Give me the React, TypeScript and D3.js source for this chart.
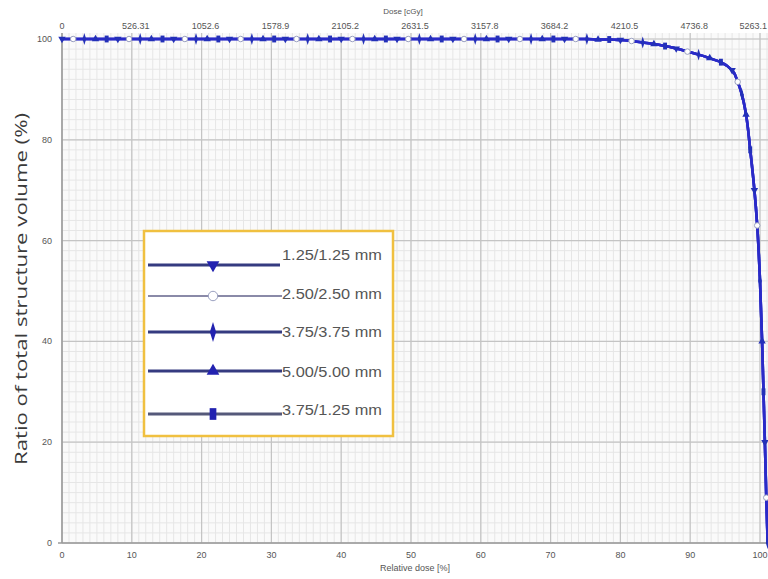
import * as d3 from "d3";

// relative dose [%] sampled along the DVH curve
const relDose = [
  0, 1.6, 3.2, 4.8, 6.4, 8, 9.6, 11.2, 12.8, 14.4, 16, 17.6, 19.2, 20.8, 22.4,
  24, 25.6, 27.2, 28.8, 30.4, 32, 33.6, 35.2, 36.8, 38.4, 40, 41.6, 43.2, 44.8,
  46.4, 48, 49.6, 51.2, 52.8, 54.4, 56, 57.6, 59.2, 60.8, 62.4, 64, 65.6, 67.2,
  68.8, 70.4, 72, 73.6, 75.2, 76.8, 78.4, 80, 81.6, 83.2, 84.8, 86.4, 88, 89.6,
  91.2, 92.8, 94.4, 96, 96.8, 97.4, 98, 98.6, 99.2, 99.6, 100, 100.3, 100.5,
  100.7, 100.9, 101.1,
];

// ratio of total structure volume [%]
const volume = [
  100, 100, 100, 100, 100, 100, 100, 100, 100, 100, 100, 100, 100, 100, 100,
  100, 100, 100, 100, 100, 100, 100, 100, 100, 100, 100, 100, 100, 100, 100,
  100, 100, 100, 100, 100, 100, 100, 100, 100, 100, 100, 100, 100, 100, 100,
  100, 100, 100, 99.9, 99.9, 99.8, 99.6, 99.3, 99.0, 98.6, 98.1, 97.5, 96.9,
  96.2, 95.4, 93.8, 91.5, 89, 85, 78, 70, 63, 52, 40, 30, 20, 9, 0,
];

const seriesNames = [
  "1.25/1.25 mm",
  "2.50/2.50 mm",
  "3.75/3.75 mm",
  "5.00/5.00 mm",
  "3.75/1.25 mm",
];

const relTicks = [0, 10, 20, 30, 40, 50, 60, 70, 80, 90, 100];
const doseLabels = [
  "0", "526.31", "1052.6", "1578.9", "2105.2", "2631.5",
  "3157.8", "3684.2", "4210.5", "4736.8", "5263.1",
];
const volTicks = [0, 20, 40, 60, 80, 100];

const W = 768;
const H = 579;
const plotTop = 33;
const plotBottom = 543;

const x = d3.scaleLinear().domain([0, 100]).range([62, 760]);
const y = d3.scaleLinear().domain([0, 100]).range([543, 39]);

const markerKinds = ["down", "hollow", "diamond", "up", "square"];

const markerPath = (kind: string, size: number) => {
  if (kind === "square") return d3.symbol(d3.symbolSquare, size)()!;
  if (kind === "diamond") return d3.symbol(d3.symbolDiamond, size)()!;
  if (kind === "hollow") return d3.symbol(d3.symbolCircle, size)()!;
  return d3.symbol(d3.symbolTriangle, size)()!;
};

const Marker = ({ kind, cx, cy, size, fill }: any) => (
  <path
    d={markerPath(kind, size)}
    transform={`translate(${cx},${cy})${kind === "down" ? " rotate(180)" : ""}${kind === "diamond" ? " scale(0.7,1.3)" : ""}${kind === "square" ? " scale(0.8,1.4)" : ""}`}
    fill={kind === "hollow" ? "#fff" : fill}
    stroke={kind === "hollow" ? "#9aa0c0" : "none"}
    strokeWidth={1}
  />
);

export default function App() {
  const pts = relDose.map((d, i) => [d, volume[i]] as [number, number]);
  const line = d3
    .line<[number, number]>()
    .x((d) => x(d[0]))
    .y((d) => y(d[1]))
    .curve(d3.curveMonotoneY);

  const minorX = d3.range(0, 102, 1);
  const minorY = d3.range(0, 101, 2);

  const legendX = 144;
  const legendY = 231;
  const legendRows = [265, 296, 332, 371, 414];
  const labelRows = [255, 294, 332, 372, 410];

  return (
    <svg width={W} height={H} style={{ position: "absolute", left: 0, top: 0, background: "#fff" }}>
      <rect x={62} y={plotTop} width={W - 62} height={plotBottom - plotTop} fill="#fafafa" />
      {minorX.map((v) => (
        <line key={"mx" + v} x1={x(v)} x2={x(v)} y1={plotTop} y2={plotBottom} stroke="#e6e6e6" strokeWidth={1} />
      ))}
      {minorY.map((v) => (
        <line key={"my" + v} x1={62} x2={W} y1={y(v)} y2={y(v)} stroke="#e6e6e6" strokeWidth={1} />
      ))}
      {relTicks.map((v) => (
        <line key={"Mx" + v} x1={x(v)} x2={x(v)} y1={plotTop} y2={plotBottom} stroke="#c4c4c4" strokeWidth={1.2} />
      ))}
      {volTicks.map((v) => (
        <line key={"My" + v} x1={62} x2={W} y1={y(v)} y2={y(v)} stroke="#c4c4c4" strokeWidth={1.2} />
      ))}
      <line x1={62} x2={62} y1={plotTop} y2={plotBottom} stroke="#9a9a9a" strokeWidth={1.5} />
      <line x1={58} x2={W} y1={plotBottom} y2={plotBottom} stroke="#9a9a9a" strokeWidth={1.5} />

      {/* tick labels */}
      <g fontFamily="Liberation Sans, Arial, sans-serif" fontSize={9} fill="#555">
        {relTicks.map((v) => (
          <text key={"bt" + v} x={x(v)} y={558} textAnchor="middle">{v}</text>
        ))}
        {relTicks.map((v, i) => (
          <text
            key={"tt" + v}
            x={i === relTicks.length - 1 ? 767 : x(v) + (i === 0 ? 0 : 4)}
            y={29}
            textAnchor={i === relTicks.length - 1 ? "end" : "middle"}
          >
            {doseLabels[i]}
          </text>
        ))}
        {volTicks.map((v) => (
          <text key={"yt" + v} x={52} y={y(v) + 3} textAnchor="end">{v}</text>
        ))}
        <text x={403} y={14} textAnchor="middle" fontSize={8}>Dose [cGy]</text>
        <text x={415} y={571} textAnchor="middle" fontSize={9}>Relative dose [%]</text>
      </g>

      <text
        transform="translate(27,289) rotate(-90)"
        textAnchor="middle"
        fontFamily="Open Sans, Noto Sans, sans-serif"
        fontSize={17}
        fill="#3a3a3a"
        textLength={352}
        lengthAdjust="spacingAndGlyphs"
      >
        Ratio of total structure volume (%)
      </text>

      {/* DVH curves */}
      {seriesNames.map((name, s) => (
        <path key={name} d={line(pts) || ""} fill="none" stroke="#2a2ac8" strokeWidth={s === 1 ? 1.5 : 2.6} strokeOpacity={0.8} />
      ))}
      {seriesNames.map((name, s) =>
        pts
          .filter((_, i) => i % 5 === s)
          .map((p, i) => (
            <Marker key={name + i} kind={markerKinds[s]} cx={x(p[0])} cy={y(p[1])} size={24} fill="#2330b8" />
          ))
      )}

      {/* legend */}
      <rect x={legendX} y={legendY} width={249} height={205} fill="#fff" stroke="#f0c040" strokeWidth={2.5} />
      {seriesNames.map((name, s) => (
        <g key={"lg" + name}>
          <line
            x1={148}
            x2={s === 0 ? 280 : 282}
            y1={legendRows[s]}
            y2={legendRows[s]}
            stroke={s === 1 ? "#8a8aa8" : s === 4 ? "#55597a" : "#353b80"}
            strokeWidth={s === 1 ? 2 : 3}
          />
          <Marker kind={markerKinds[s]} cx={213} cy={legendRows[s]} size={70} fill="#2222b0" />
          <text
            x={282}
            y={labelRows[s] + 5}
            fontFamily="Liberation Sans, Arial, sans-serif"
            fontSize={15}
            fill="#555"
            textLength={100}
            lengthAdjust="spacingAndGlyphs"
          >
            {name}
          </text>
        </g>
      ))}
    </svg>
  );
}
